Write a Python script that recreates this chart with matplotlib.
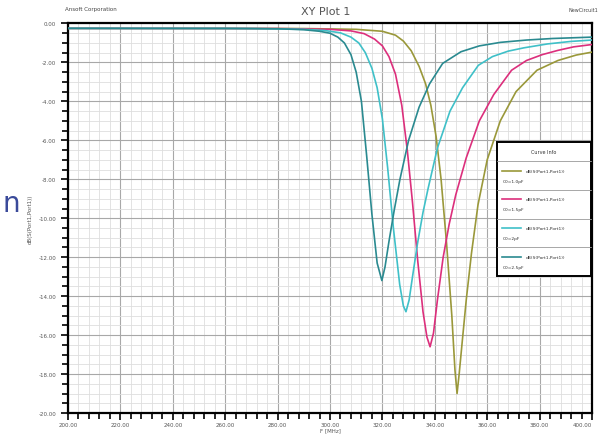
import matplotlib
matplotlib.use("Agg")
import matplotlib.pyplot as plt
from matplotlib.ticker import MultipleLocator, FormatStrFormatter
from matplotlib.patches import Rectangle

# curve data: frequency (MHz) and dB(S11)
freq_c10 = [200, 290, 310, 320, 325, 328, 331, 334, 336.5, 338.5, 340.5, 342.4, 344.5, 346.5, 347.7, 348.5,
            349.3, 350.5, 352, 354, 356.5, 360, 365, 371, 379, 387, 394, 400]
db_c10 = [-0.25, -0.26, -0.3, -0.4, -0.6, -0.9, -1.4, -2.2, -3.1, -4.2, -5.8, -8.0, -11.3, -15.0, -17.8, -19.0,
          -18.0, -16.3, -14.2, -11.8, -9.3, -7.0, -5.0, -3.5, -2.4, -1.9, -1.62, -1.47]

freq_c15 = [200, 280, 300, 308, 313, 317, 320, 322.5, 325, 327.4, 329.5, 331.5, 333.5, 335.5, 337, 338.2,
            339.5, 341, 343.2, 345.5, 348, 352, 357, 362.5, 369.3, 375, 381, 387, 393, 400]
db_c15 = [-0.25, -0.26, -0.3, -0.38, -0.52, -0.8, -1.15, -1.7, -2.6, -4.2, -6.5, -9.2, -12.2, -14.8, -16.1, -16.6,
          -15.9, -14.2, -12.0, -10.3, -8.8, -6.9, -5.0, -3.65, -2.4, -1.9, -1.6, -1.38, -1.2, -1.08]

freq_c20 = [200, 270, 290, 298, 304, 308, 311, 313.5, 316, 318, 320, 322, 324.2, 326.6, 328, 329,
            330.2, 331.5, 333.4, 335.5, 337.4, 341, 345.8, 350.6, 356.6, 362, 368, 374, 383, 392, 400]
db_c20 = [-0.25, -0.26, -0.3, -0.36, -0.48, -0.7, -1.0, -1.5, -2.3, -3.3, -4.9, -7.4, -10.5, -13.4, -14.5, -14.8,
          -14.2, -13.0, -11.3, -9.7, -8.5, -6.4, -4.5, -3.3, -2.15, -1.7, -1.42, -1.25, -1.05, -0.92, -0.85]

freq_c25 = [200, 260, 280, 290, 296, 300, 303, 305.5, 308, 310, 312, 314, 316, 318, 319.8,
            321, 322.5, 324.5, 326.7, 330, 334, 338, 343, 350, 357, 365, 375, 385, 400]
db_c25 = [-0.25, -0.25, -0.27, -0.32, -0.4, -0.5, -0.7, -1.0, -1.6, -2.5, -4.0, -6.8, -9.8, -12.3, -13.2,
          -12.5, -11.2, -9.6, -8.0, -6.0, -4.3, -3.1, -2.05, -1.45, -1.15, -0.97, -0.85, -0.77, -0.7]

x_ticks = [200, 220, 240, 260, 280, 300, 320, 340, 360, 380, 400]

series = [
    (freq_c10, db_c10, "C0=1.0pF", "#9a983a"),
    (freq_c15, db_c15, "C0=1.5pF", "#dc2f7c"),
    (freq_c20, db_c20, "C0=2pF", "#3fc0c8"),
    (freq_c25, db_c25, "C0=2.5pF", "#2a8a90"),
]

fig = plt.figure(figsize=(5.99, 4.35), dpi=100)
ax = fig.add_axes([0.1135, 0.0483, 0.8748, 0.8954])

for f, d, lab, col in series:
    ax.plot(f, d, color=col, lw=1.2, zorder=3)

ax.set_xlim(200, 400)
ax.set_ylim(-20, 0)
ax.set_xticks(x_ticks, ["%.2f" % t for t in x_ticks])
ax.xaxis.set_minor_locator(MultipleLocator(4))
ax.yaxis.set_major_locator(MultipleLocator(2))
ax.yaxis.set_minor_locator(MultipleLocator(0.5))
ax.yaxis.set_major_formatter(FormatStrFormatter("%.2f"))
ax.grid(which="major", color="#a8a8a8", lw=0.8)
ax.grid(which="minor", color="#dedede", lw=0.6)
ax.set_axisbelow(True)
ax.tick_params(which="both", direction="out", labelsize=4, colors="black", labelcolor="#555555", width=1.2)
ax.tick_params(which="major", length=5)
ax.tick_params(which="minor", length=4)
ax.tick_params(axis="x", pad=1.5)
for s in ax.spines.values():
    s.set_linewidth(1.6)
ax.get_xticklabels()[-1].set_horizontalalignment("right")

ax.set_xlabel("F [MHz]", fontsize=4, color="#555555", labelpad=0)
ax.set_ylabel("dB(S(Port1,Port1))", fontsize=4, color="#555555", labelpad=4)

fig.text(0.543, 0.972, "XY Plot 1", ha="center", va="center", fontsize=8, color="#555555")
fig.text(0.108, 0.978, "Ansoft Corporation", ha="left", va="center", fontsize=4, color="#444444")
fig.text(0.999, 0.975, "NewCircuit1", ha="right", va="center", fontsize=3.5, color="#444444")
fig.text(0.004, 0.53, "n", ha="left", va="center", fontsize=20, color="#3a4a9a")

# legend box (Curve Info)
x0, x1, y0, y1 = 0.819, 0.998, 0.352, 0.696
ax.add_patch(Rectangle((x0, y0), x1 - x0, y1 - y0, transform=ax.transAxes,
                       facecolor="white", edgecolor="black", lw=1.4, zorder=5))
head = 0.05
ax.text((x0 + x1) / 2, y1 - head / 2, "Curve Info", transform=ax.transAxes,
        ha="center", va="center", fontsize=3.5, color="#333333", zorder=6)
row_h = (y1 - y0 - head) / len(series)
for i, (f, d, lab, col) in enumerate(series):
    top = y1 - head - i * row_h
    ax.plot([x0, x1], [top, top], transform=ax.transAxes, color="#999999", lw=0.6, zorder=6)
    ax.plot([x0 + 0.01, x0 + 0.045], [top - row_h * 0.33] * 2, transform=ax.transAxes,
            color=col, lw=1.2, zorder=6)
    ax.text(x0 + 0.055, top - row_h * 0.33, "dB(S(Port1,Port1))", transform=ax.transAxes,
            ha="left", va="center", fontsize=3.2, color="#333333", zorder=6)
    ax.text(x0 + 0.01, top - row_h * 0.68, lab, transform=ax.transAxes,
            ha="left", va="center", fontsize=3.2, color="#333333", zorder=6)

fig.savefig("out.png", dpi=100, facecolor="white")
